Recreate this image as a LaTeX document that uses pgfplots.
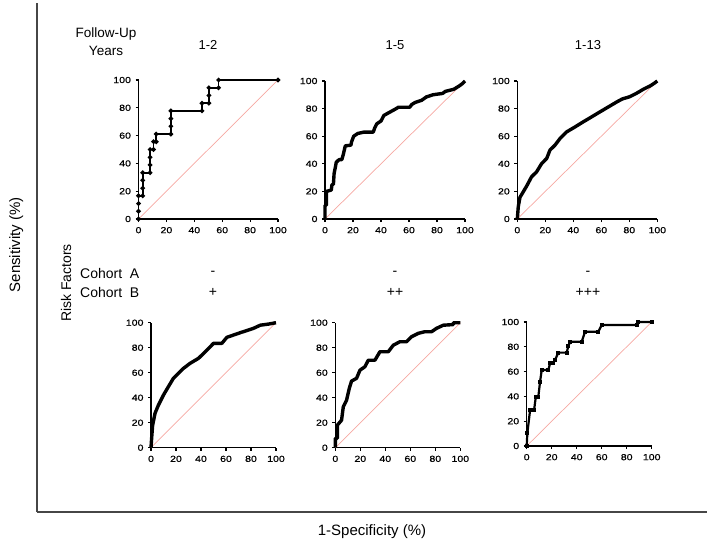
\documentclass[border=0pt]{standalone}
\usepackage{fontspec}
\setmainfont{Liberation Sans}
\newfontfamily\tickfont[FakeStretch=1.2, FakeBold=0.6]{Liberation Sans}
\usepackage{pgfplots}
\pgfplotsset{compat=1.18}
\definecolor{diagred}{RGB}{246,168,162}
\definecolor{framegray}{RGB}{70,70,70}
\pgfplotsset{
  roc/.style={
    scale only axis, anchor=south west, clip=false,
    axis lines=left, axis line style={-, line width=1.3pt},
    xmin=0, xmax=100, ymin=0, ymax=100, enlargelimits=false,
    xtick={0,20,...,100}, ytick={0,20,...,100},
    tick align=outside, major tick length=3pt,
    tick style={line width=1.1pt, black},
    tick label style={font=\tickfont\fontsize{8.8}{10}\selectfont},
    xticklabel style={yshift=-1.5pt},
    yticklabel style={xshift=-1pt},
    /pgf/number format/assume math mode=true,
  },
  diag/.style={diagred, line width=0.7pt},
  thickcurve/.style={black, line width=3.4pt, line join=round},
  markcurve/.style={black, line width=1.8pt, mark=*, mark size=1.3pt, mark options={solid}},
}
\begin{document}
\begin{tikzpicture}
\useasboundingbox (0pt,0pt) rectangle (709pt,547pt);
% outer frame
\begin{axis}[scale only axis, at={(37pt,35pt)}, anchor=south west, width=670pt, height=509pt,
  axis lines=left, axis line style={-, line width=1.2pt, framegray},
  xmin=0, xmax=1, ymin=0, ymax=1, xtick=\empty, ytick=\empty,
  xlabel={1-Specificity (\%)}, ylabel={Sensitivity (\%)},
  label style={font=\fontsize{15}{18}\selectfont},
  xlabel style={at={(axis description cs:0.5,-0.039)}, anchor=center},
  ylabel style={at={(axis description cs:-0.031,0.525)}, anchor=center}]
\end{axis}
% top-left 1-2
\begin{axis}[roc, at={(138.5pt,328pt)}, width=139.5pt, height=139pt]
\addplot[diag] coordinates {(0,0) (100,100)};
\addplot[markcurve] coordinates {
(0,0) (0,5.6) (0,11.1) (0,16.7) (3,16.7) (3,22.2) (3,27.8) (3,33.3)
(8.3,33.3) (8.3,38.9) (8.3,44.4) (8.3,50) (10.8,50) (10.8,55.6) (12.7,55.6) (12.7,61.1)
(23.2,61.1) (23.2,66.7) (23.2,72.2) (23.2,77.8) (45.5,77.8) (45.5,83.3) (50.5,83.3)
(50.5,88.9) (50.5,94.4) (57.4,94.4) (57.4,100) (100,100)};
\end{axis}
% top-middle 1-5
\begin{axis}[roc, at={(325pt,328pt)}, width=140pt, height=138pt]
\addplot[diag] coordinates {(0,0) (100,100)};
\addplot[thickcurve] coordinates {
(0,0) (0,10) (1,10) (1,20) (4.5,21) (5,25) (6,25) (6.5,33) (7.5,38) (8,41) (10,43) (12,43)
(13,46.5) (14.5,53) (18.5,53.5) (19,56) (20.5,60) (23.5,62) (28,63) (34.5,63) (35.5,66)
(37,69) (40,71) (42,75) (45.5,77) (50,79.5) (52.5,81) (60.5,81) (62,83) (64.5,84.5)
(69,86) (72.5,88.5) (77,90) (84,91) (86,92.5) (88,93) (92,94) (96,96.5) (98,98) (100,100)};
\end{axis}
% top-right 1-13
\begin{axis}[roc, at={(517.3pt,328pt)}, width=140pt, height=138pt]
\addplot[diag] coordinates {(0,0) (100,100)};
\addplot[thickcurve] coordinates {
(0,0) (0.7,9) (1.9,15.7) (4.3,19.8) (6.7,23.9) (10.2,30.6) (13.8,34.2) (17.4,40.2)
(21,43.9) (23.3,49.9) (26.9,53.5) (30.5,58.3) (35.2,63.1) (41.2,66.7) (47.1,70.4)
(53.1,74) (59,77.6) (65,81.2) (71,84.8) (75,87) (80,88.5) (85,91) (90,94) (95,96.5)
(98,98.5) (100,100)};
\end{axis}
% bottom-left
\begin{axis}[roc, at={(151pt,99.3pt)}, width=125pt, height=125pt]
\addplot[diag] coordinates {(0,0) (100,100)};
\addplot[thickcurve] coordinates {
(0,0) (0.5,7.5) (1.3,18) (3.2,27.5) (5.9,34) (9.9,42) (13.9,48.8) (17.9,55.5)
(21.9,59.5) (26,63.5) (31.3,67.5) (38,71.5) (44.7,78) (50,83.5) (56.7,83.5)
(60.7,88.3) (71.4,92) (82,95.5) (87.4,98) (94,98.9) (100,100)};
\end{axis}
% bottom-middle
\begin{axis}[roc, at={(335.3pt,99.3pt)}, width=125pt, height=125pt]
\addplot[diag] coordinates {(0,0) (100,100)};
\addplot[thickcurve] coordinates {
(0,0) (0,7.5) (1.6,7.5) (1.6,18) (5,22) (6.4,32.8) (9,38) (11.2,47.5) (13,53.3)
(17,55.5) (19.7,62) (23.7,64.8) (26.4,70) (31.7,70) (35.7,76.8) (42.4,76.8) (46.4,82)
(51.7,84.8) (57,84.8) (61,88.8) (66.4,91.5) (71.7,92.8) (77,92.8) (81,95.5) (86.4,98)
(94.4,98.5) (94.4,100) (100,100)};
\end{axis}
% bottom-right
\begin{axis}[roc, at={(526.7pt,101pt)}, width=125pt, height=124pt]
\addplot[diag] coordinates {(0,0) (100,100)};
\addplot[markcurve, mark=square*, mark size=1pt, line width=2.2pt] coordinates {
(0,0) (0.5,10.2) (2.7,29) (5.9,29) (7.3,39.8) (9.3,39.8) (10.7,51.9) (12,61.3)
(17.3,61.3) (18.7,66.7) (21,66.7) (22.7,69.4) (25.3,75.3) (32,75.3) (33.3,80.6)
(34.7,84) (44,84) (46.7,92.2) (57.3,92.2) (60,97.6) (88,97.6) (89,100) (100,100)};
\end{axis}
% annotations
\node[align=center, font=\fontsize{13.5}{18}\selectfont] at (106pt,505pt) {Follow-Up\\Years};
\node[font=\fontsize{13}{15}\selectfont] at (208pt,502pt) {1-2};
\node[font=\fontsize{13}{15}\selectfont] at (395pt,502pt) {1-5};
\node[font=\fontsize{13}{15}\selectfont] at (588pt,502pt) {1-13};
\node[anchor=west, inner sep=0pt, font=\fontsize{14}{16}\selectfont] at (80pt,274pt) {Cohort\ \ A};
\node[anchor=west, inner sep=0pt, font=\fontsize{14}{16}\selectfont] at (80pt,255pt) {Cohort\ \ B};
\node[font=\fontsize{14}{16}\selectfont] at (213pt,274pt) {-};
\node[font=\fontsize{14}{16}\selectfont] at (213pt,255pt) {+};
\node[font=\fontsize{14}{16}\selectfont] at (395pt,274pt) {-};
\node[font=\fontsize{14}{16}\selectfont] at (395pt,255pt) {++};
\node[font=\fontsize{14}{16}\selectfont] at (588pt,274pt) {-};
\node[font=\fontsize{14}{16}\selectfont] at (588pt,255pt) {+++};
\node[rotate=90, font=\fontsize{14}{16}\selectfont] at (66pt,264pt) {Risk Factors};
\end{tikzpicture}
\end{document}
